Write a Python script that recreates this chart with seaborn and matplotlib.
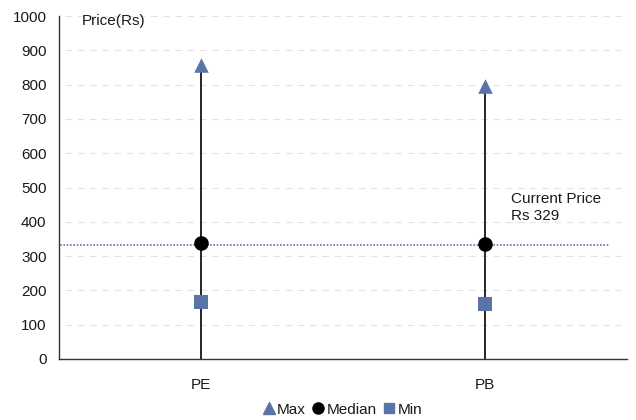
import pandas as pd
import numpy as np
import seaborn as sns
import matplotlib.pyplot as plt
from matplotlib.lines import Line2D

# values
ratios = ["PE", "PB"]
max_price = [858, 795]
median_price = [338, 336]
min_price = [166, 160]
current_price = 333
current_label = "Current Price\nRs 329"

blue = "#5b74a8"
fs = 11

df = pd.DataFrame({
    "Ratio": ratios * 3,
    "Stat": ["Max"] * 2 + ["Median"] * 2 + ["Min"] * 2,
    "Price": max_price + median_price + min_price,
})

sns.set_style("white")
plt.rcParams['font.family'] = ['Liberation Sans', 'DejaVu Sans']
plt.rcParams['text.color'] = '#1a1a1a'

fig = plt.figure(figsize=(6.36, 4.2), dpi=100)
ax = fig.add_axes([59 / 636, 1 - 359 / 420, (627 - 59) / 636, (359 - 16) / 420])

# stems from zero up to the max value
ax.vlines(range(len(ratios)), 0, max_price, color="black", lw=1.2, zorder=2)

styles = {"Max": ("^", blue), "Median": ("o", "black"), "Min": ("s", blue)}
for stat, (mk, col) in styles.items():
    sns.stripplot(data=df[df["Stat"] == stat], x="Ratio", y="Price", order=ratios,
                  jitter=False, marker=mk, color=col, size=10.5, ax=ax,
                  zorder=4, linewidth=0)

ax.axhline(current_price, xmin=0.002, xmax=0.97, color=blue, ls=(0, (1, 1)), lw=1.2, zorder=3)
ax.text(1.09, 397, current_label, fontsize=fs, va="bottom", ha="left", linespacing=1.25)
ax.text(-0.42, 985, "Price(Rs)", fontsize=fs, va="center", ha="left")

ax.set_ylim(0, 1000)
ax.set_xlim(-0.5, 1.5)
ax.set_yticks(range(0, 1001, 100))
ax.set_xticks([-0.5, 0.5, 1.5])
ax.set_xticklabels([])
ax.set_xticks([0, 1], minor=True)
ax.set_xticklabels(ratios, minor=True)
ax.tick_params(axis="x", which="minor", length=0, pad=14, labelsize=fs, labelcolor="#1a1a1a")
ax.tick_params(axis="x", which="major", length=5, width=0.8, direction="out", color="#333333")
ax.tick_params(axis="y", length=5, width=0.8, direction="out", labelsize=fs, color="#333333",
               pad=4, labelcolor="#1a1a1a")
ax.set_xlabel("")
ax.set_ylabel("")

for y in range(100, 1001, 100):
    ax.plot([-0.48, 1.48], [y, y], color="#e3e3e3", lw=0.8, ls=(0, (6, 5)), zorder=1)

for s in ["top", "right"]:
    ax.spines[s].set_visible(False)
for s in ["left", "bottom"]:
    ax.spines[s].set_color("#333333")
    ax.spines[s].set_linewidth(1)

handles = [
    Line2D([], [], marker="^", color=blue, ls="", markersize=8),
    Line2D([], [], marker="o", color="black", ls="", markersize=8),
    Line2D([], [], marker="s", color=blue, ls="", markersize=7.5),
]
fig.legend(handles, ["Max", "Median", "Min"], loc="lower center", bbox_to_anchor=(0.537, -0.025),
           ncol=3, frameon=False, fontsize=fs, handletextpad=0.05, columnspacing=0.3,
           handlelength=1.0)

fig.savefig("out.png", dpi=100)
